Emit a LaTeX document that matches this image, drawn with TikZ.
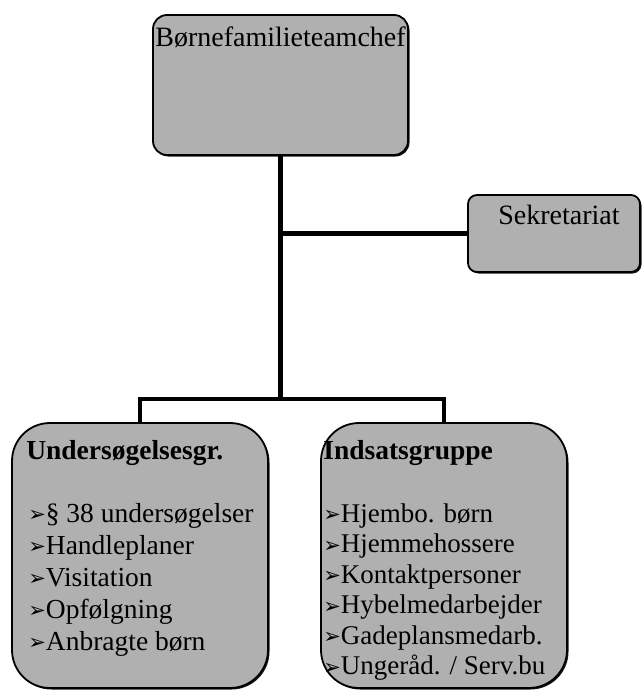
\documentclass[tikz,border=0pt]{standalone}
\usepackage{fontspec}
\setmainfont{Liberation Serif}
\newfontfamily\symfont{DejaVu Sans}
\usetikzlibrary{positioning,shadows}
\definecolor{boxfill}{HTML}{B0B0B0}
\newcommand{\pil}{{\symfont\fontsize{21}{21}\selectfont\raisebox{0.5pt}{➢}}}

\begin{document}
\begin{tikzpicture}[
    x=1pt, y=-1pt,
    unit/.style={rectangle, draw=black, line width=1.8pt, fill=boxfill, inner sep=0pt,
        drop shadow={shadow xshift=1.5pt, shadow yshift=-1.5pt, fill=black, opacity=0.9}},
    title/.style={inner sep=0pt, font=\fontsize{28}{30}\selectfont},
    head/.style={inner sep=0pt, anchor=north west, font=\bfseries\fontsize{27.5}{30}\selectfont},
    list/.style={inner sep=0pt, anchor=north west, align=left},
    link/.style={line width=4.5pt}
]
    \useasboundingbox (0,0) rectangle (642,690);

    % Boxes
    \node[unit, rounded corners=14pt, minimum width=255pt, minimum height=140pt] (chef) at (280.5,85) {};
    \node[unit, rounded corners=9pt, minimum width=172pt, minimum height=77pt] (sek) at (554,233.5) {};
    \node[unit, rounded corners=38pt, minimum width=256pt, minimum height=265pt] (unders) at (140,555.5) {};
    \node[unit, rounded corners=38pt, minimum width=246pt, minimum height=265pt] (indsats) at (444,555.5) {};

    % Texts
    \node[title, anchor=north, below=12pt of chef.north] (chefname) {Børnefamilieteamchef};
    \node[title, anchor=north, below=11pt of sek.north, xshift=5pt] (sekname) {Sekretariat};

    \node[head, below right=18pt and 15pt of unders.north west] (undershead) {Undersøgelsesgr.};
    \node[list, below right=81pt and 17pt of unders.north west,
          font=\fontsize{27.5}{32}\selectfont] (underslist)
        {\pil§ 38 undersøgelser\\ \pil Handleplaner\\ \pil Visitation\\ \pil Opfølgning\\ \pil Anbragte børn};

    \node[head, below right=18pt and 3pt of indsats.north west] (indsatshead) {Indsatsgruppe};
    \node[list, below right=81pt and 3pt of indsats.north west,
          font=\fontsize{27}{30.5}\selectfont] (indsatslist)
        {\pil Hjembo. børn\\ \pil Hjemmehossere\\ \pil Kontaktpersoner\\ \pil Hybelmedarbejder\\ \pil Gadeplansmedarb.\\ \pil Ungeråd. / Serv.bu};

    % Lines
    \coordinate (bar) at (280.5,399);
    \draw[link] (chef.south) -- (bar);
    \draw[link] (sek.west) -- (sek.west -| chef.south);
    \draw[link] (unders.north) |- (bar) -| (indsats.north);
\end{tikzpicture}
\end{document}
